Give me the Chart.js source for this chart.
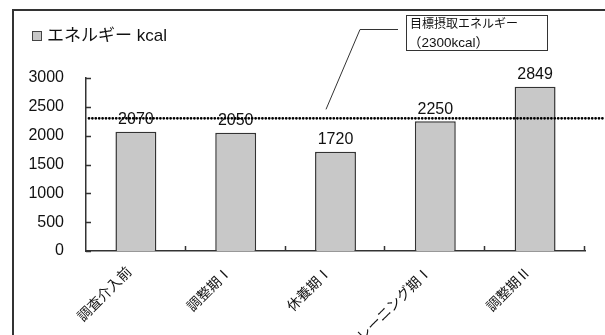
<!DOCTYPE html>
<html>
<head>
<meta charset="utf-8">
<script src="https://cdn.jsdelivr.net/npm/chart.js@4"></script>
<style>
  body { margin: 0; background: #fff; overflow: hidden; }
  #wrap { position: relative; width: 605px; height: 335px; }
  #frame { position: absolute; left: 12px; top: 9px; width: 600px; height: 400px;
           border-top: 2px solid #333; border-left: 2px solid #333; }
  canvas { position: absolute; left: 0; top: 0; }
</style>
</head>
<body>
<div id="wrap">
  <div id="frame"></div>
  <canvas id="chart" width="605" height="335"></canvas>
</div>
<script>
const categories = ['調査介入前', '調整期Ⅰ', '休養期Ⅰ', 'トレーニング期Ⅰ', '調整期Ⅱ'];
const energy = [2070, 2050, 1720, 2250, 2849];
const targetEnergy = 2300;
const yTicks = [0, 500, 1000, 1500, 2000, 2500, 3000];
const seriesName = 'エネルギー kcal';
const noteLines = ['目標摂取エネルギー', '（2300kcal）'];

const JP_FONT = '"Liberation Sans", "Noto Sans CJK JP", sans-serif';
const NUM_FONT = '16px ' + JP_FONT;

// 内向きの目盛り・ラベル・目標線・注記
const extras = {
    id: 'extras',
    afterDatasetsDraw(chart) {
        const ctx = chart.ctx;
        const x = chart.scales.x, y = chart.scales.y;
        const area = chart.chartArea;
        ctx.save();

        // 目盛り (内側)
        ctx.strokeStyle = '#333';
        ctx.lineWidth = 1.5;
        ctx.beginPath();
        yTicks.forEach(v => {
            const py = Math.round(y.getPixelForValue(v)) + 0.5;
            ctx.moveTo(area.left, py);
            ctx.lineTo(area.left + 5, py);
        });
        for (let i = 1; i <= categories.length; i++) {
            const px = Math.round(area.left + (area.right - area.left) * i / categories.length) - 0.5;
            ctx.moveTo(px, area.bottom);
            ctx.lineTo(px, area.bottom - 5);
        }
        ctx.stroke();

        // 値ラベル
        ctx.fillStyle = '#111';
        ctx.font = NUM_FONT;
        ctx.textAlign = 'center';
        ctx.textBaseline = 'bottom';
        const meta = chart.getDatasetMeta(0);
        meta.data.forEach((bar, i) => {
            ctx.fillText(String(energy[i]), bar.x, bar.y - 4);
        });

        // 目標線 (点線)
        const ty = y.getPixelForValue(targetEnergy);
        ctx.strokeStyle = '#000';
        ctx.lineWidth = 2.8;
        ctx.lineCap = 'round';
        ctx.setLineDash([0, 3.4]);
        ctx.beginPath();
        ctx.moveTo(area.left + 3, ty);
        ctx.lineTo(chart.width - 1, ty);
        ctx.stroke();
        ctx.setLineDash([]);
        ctx.lineCap = 'butt';

        // 凡例
        ctx.fillStyle = '#c8c8c8';
        ctx.fillRect(32, 31, 9, 9);
        ctx.strokeStyle = '#444';
        ctx.lineWidth = 1;
        ctx.strokeRect(32.5, 31.5, 9, 9);
        ctx.fillStyle = '#111';
        ctx.font = '17px ' + JP_FONT;
        ctx.textAlign = 'left';
        ctx.textBaseline = 'middle';
        ctx.fillText(seriesName, 47, 36);

        // 注記ボックス
        ctx.strokeStyle = '#333';
        ctx.lineWidth = 1;
        ctx.fillStyle = '#fff';
        ctx.fillRect(406, 15, 141, 35);
        ctx.strokeRect(406.5, 15.5, 141, 35);
        ctx.fillStyle = '#111';
        ctx.font = '12px ' + JP_FONT;
        ctx.fillText(noteLines[0], 410, 25);
        ctx.font = '13.5px ' + JP_FONT;
        ctx.fillText(noteLines[1], 408, 43);

        // 引き出し線
        ctx.beginPath();
        ctx.moveTo(398, 29.5);
        ctx.lineTo(360, 29.5);
        ctx.lineTo(326, ty - 9);
        ctx.stroke();

        ctx.restore();
    }
};

new Chart(document.getElementById('chart'), {
    type: 'bar',
    data: {
        labels: categories,
        datasets: [{
            label: seriesName,
            data: energy,
            backgroundColor: '#c8c8c8',
            borderColor: '#333',
            borderWidth: 1.5,
            barPercentage: 0.41,
            categoryPercentage: 1
        }]
    },
    options: {
        responsive: false,
        animation: false,
        layout: { padding: { left: 0, right: 20, top: 78, bottom: 0 } },
        plugins: { legend: { display: false }, tooltip: { enabled: false } },
        scales: {
            x: {
                grid: { display: false },
                border: { display: true, color: '#333', width: 1.5 },
                ticks: {
                    color: '#111',
                    font: { family: JP_FONT, size: 14 },
                    minRotation: 45, maxRotation: 45,
                    autoSkip: false, padding: 5, labelOffset: -6
                },
                afterFit(scale) { scale.height = 84; }
            },
            y: {
                min: 0, max: 3000,
                grid: { display: false },
                border: { display: true, color: '#333', width: 1.5 },
                ticks: {
                    stepSize: 500,
                    color: '#111',
                    font: { family: JP_FONT, size: 16 },
                    padding: 14,
                    callback: v => String(v)
                },
                afterFit(scale) { scale.width = 86; }
            }
        }
    },
    plugins: [extras]
});
</script>
</body>
</html>
